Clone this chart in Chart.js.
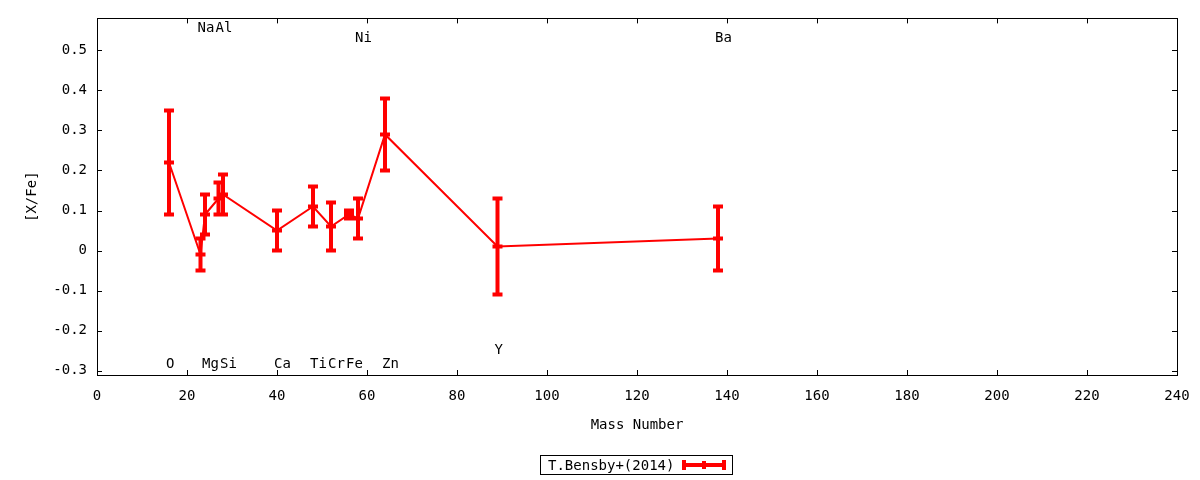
<!DOCTYPE html>
<html>
<head>
<meta charset="utf-8">
<script src="https://cdn.jsdelivr.net/npm/chart.js@4/dist/chart.umd.min.js"></script>
<style>
  html, body { margin: 0; padding: 0; background: #fff; }
  #wrap { width: 1200px; height: 480px; }
</style>
</head>
<body>
<div id="wrap"><canvas id="abund" width="1200" height="480"></canvas></div>
<script>
// Datos: [X/Fe] frente al número másico
const elements   = ['O', 'Na', 'Mg', 'Al', 'Si', 'Ca', 'Ti', 'Cr', 'Fe', 'Ni', 'Zn', 'Y', 'Ba'];
const massNumber = [16, 23, 24, 27, 28, 40, 48, 52, 56, 58, 64, 89, 138];
const xFe        = [0.22, -0.01, 0.09, 0.13, 0.14, 0.05, 0.11, 0.06, 0.09, 0.08, 0.29, 0.01, 0.03];
const xFeErr     = [0.13, 0.04, 0.05, 0.04, 0.05, 0.05, 0.05, 0.06, 0.01, 0.05, 0.09, 0.12, 0.08];
// altura (en [X/Fe]) donde va el nombre de cada elemento
const labelY     = [-0.285, 0.555, -0.285, 0.555, -0.285, -0.285, -0.285, -0.285, -0.285, 0.53, -0.285, -0.25, 0.53];

const xTicks = [0, 20, 40, 60, 80, 100, 120, 140, 160, 180, 200, 220, 240];
const yTicks = [-0.3, -0.2, -0.1, 0, 0.1, 0.2, 0.3, 0.4, 0.5];

const seriesName = 'T.Bensby+(2014)';
const RED = '#ff0000';
const FONT = '"DejaVu Sans Mono", "Liberation Mono", monospace';

// Barras de error verticales con sus topes y la marca del valor central
const errorBars = {
    id: 'errorBars',
    afterDatasetsDraw(chart) {
        const { ctx, scales: { x, y } } = chart;
        ctx.save();
        ctx.strokeStyle = RED;
        ctx.lineCap = 'butt';
        ctx.lineWidth = 4;
        ctx.beginPath();
        for (let i = 0; i < massNumber.length; i++) {
            const px = x.getPixelForValue(massNumber[i]);
            const mid = y.getPixelForValue(xFe[i]);
            const top = y.getPixelForValue(xFe[i] + xFeErr[i]);
            const bot = y.getPixelForValue(xFe[i] - xFeErr[i]);
            ctx.moveTo(px, top);
            ctx.lineTo(px, bot);
            ctx.moveTo(px - 5, top);
            ctx.lineTo(px + 5, top);
            ctx.moveTo(px - 5, bot);
            ctx.lineTo(px + 5, bot);
            ctx.moveTo(px - 5, mid);
            ctx.lineTo(px + 5, mid);
        }
        ctx.stroke();
        ctx.restore();
    }
};

// Marco, marcas hacia dentro, nombres de elementos y leyenda al estilo gnuplot
const frame = {
    id: 'frame',
    afterDraw(chart) {
        const { ctx, chartArea: a, scales: { x, y } } = chart;
        ctx.save();
        ctx.strokeStyle = '#000';
        ctx.lineWidth = 1;
        ctx.beginPath();
        xTicks.forEach(v => {
            const px = Math.round(x.getPixelForValue(v)) + 0.5;
            ctx.moveTo(px, a.bottom); ctx.lineTo(px, a.bottom - 5);
            ctx.moveTo(px, a.top); ctx.lineTo(px, a.top + 5);
        });
        yTicks.forEach(v => {
            const py = Math.round(y.getPixelForValue(v)) + 0.5;
            ctx.moveTo(a.left, py); ctx.lineTo(a.left + 5, py);
            ctx.moveTo(a.right, py); ctx.lineTo(a.right - 5, py);
        });
        ctx.stroke();
        ctx.strokeRect(Math.round(a.left) + 0.5, Math.round(a.top) + 0.5,
                       Math.round(a.right - a.left), Math.round(a.bottom - a.top));

        // nombres de los elementos
        ctx.fillStyle = '#000';
        ctx.font = '14px ' + FONT;
        ctx.textAlign = 'left';
        ctx.textBaseline = 'middle';
        elements.forEach((el, i) => {
            ctx.fillText(el, x.getPixelForValue(massNumber[i]) - 3, y.getPixelForValue(labelY[i]));
        });

        // leyenda
        const bx = 540.5, by = 455.5, bw = 192, bh = 19;
        ctx.strokeRect(bx, by, bw, bh);
        ctx.fillText(seriesName, 548, by + bh / 2 + 1);
        const sy = by + bh / 2;
        ctx.strokeStyle = RED;
        ctx.lineWidth = 4;
        ctx.beginPath();
        ctx.moveTo(684, sy); ctx.lineTo(724, sy);
        ctx.moveTo(684, sy - 5); ctx.lineTo(684, sy + 5);
        ctx.moveTo(724, sy - 5); ctx.lineTo(724, sy + 5);
        ctx.moveTo(704, sy - 4); ctx.lineTo(704, sy + 4);
        ctx.stroke();
        ctx.restore();
    }
};

new Chart(document.getElementById('abund').getContext('2d'), {
    type: 'scatter',
    data: {
        datasets: [{
            label: seriesName,
            data: massNumber.map((m, i) => ({ x: m, y: xFe[i] })),
            showLine: true,
            borderColor: RED,
            borderWidth: 2,
            tension: 0,
            pointRadius: 0,
            pointHoverRadius: 0,
        }]
    },
    options: {
        responsive: false,
        animation: false,
        devicePixelRatio: 1,
        layout: { padding: { left: 0, right: 23, top: 17, bottom: 0 } },
        plugins: {
            legend: { display: false },
            tooltip: { enabled: false }
        },
        scales: {
            x: {
                type: 'linear',
                min: 0,
                max: 240,
                afterBuildTicks: (s) => { s.ticks = xTicks.map(v => ({ value: v })); },
                afterFit: (s) => {
                    s.height = 105;
                    s.paddingLeft = 0;
                    s.paddingRight = 0;
                },
                grid: { display: false, drawTicks: false },
                border: { display: false },
                ticks: {
                    color: '#000',
                    font: { family: FONT, size: 14 },
                    padding: 13,
                    maxRotation: 0,
                    autoSkip: false,
                    callback: (v) => v
                },
                title: {
                    display: true,
                    text: 'Mass Number',
                    color: '#000',
                    font: { family: FONT, size: 14 },
                    padding: { top: 0, bottom: 46 }
                }
            },
            y: {
                type: 'linear',
                min: -0.311,
                max: 0.58,
                afterBuildTicks: (s) => { s.ticks = yTicks.map(v => ({ value: v })); },
                afterFit: (s) => { s.width = 97; },
                grid: { display: false, drawTicks: false },
                border: { display: false },
                ticks: {
                    color: '#000',
                    font: { family: FONT, size: 14 },
                    padding: 10,
                    autoSkip: false,
                    callback: (v) => v === 0 ? '0' : v.toFixed(1)
                },
                title: {
                    display: true,
                    text: '[X/Fe]',
                    color: '#000',
                    font: { family: FONT, size: 14 },
                    padding: { top: 24, bottom: 0 }
                }
            }
        }
    },
    plugins: [errorBars, frame]
});
</script>
</body>
</html>
